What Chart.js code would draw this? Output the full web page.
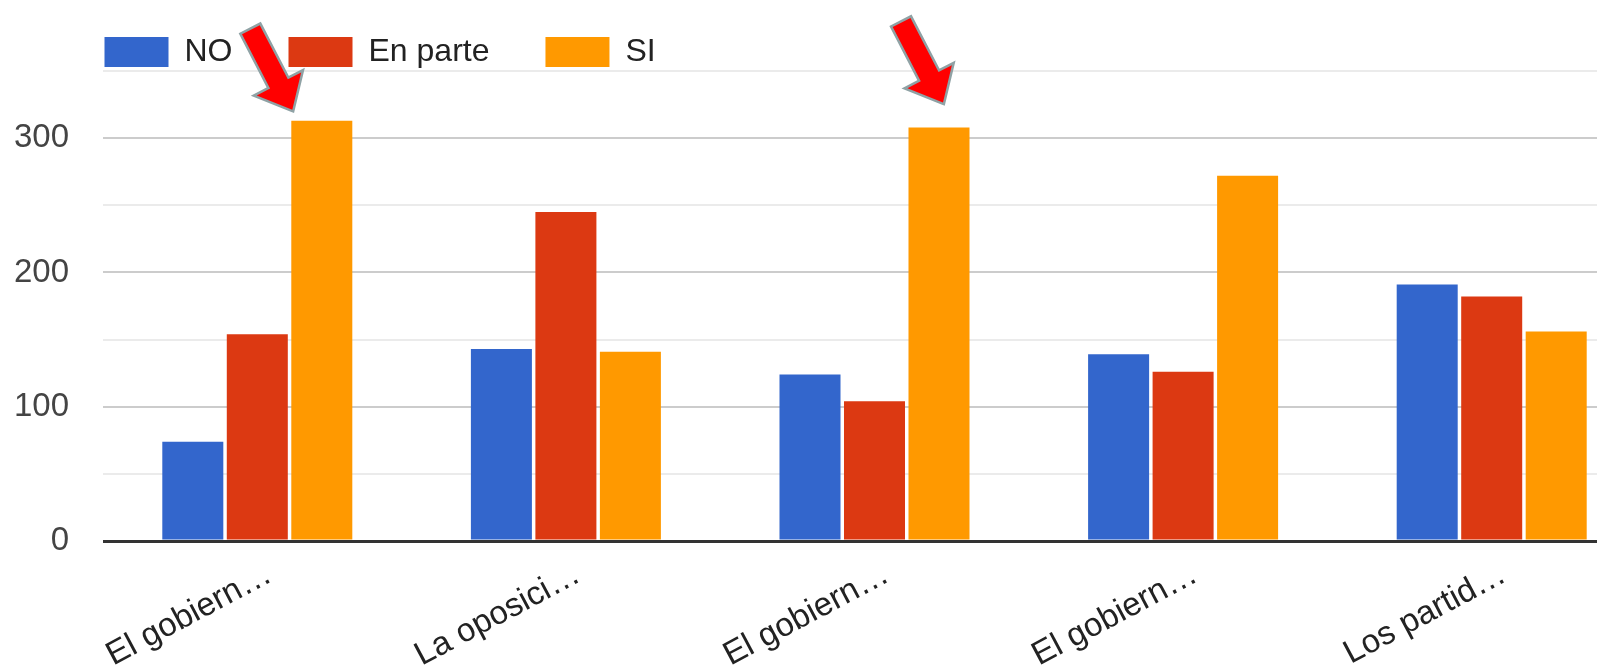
<!DOCTYPE html>
<html>
<head>
<meta charset="utf-8">
<script src="https://cdn.jsdelivr.net/npm/chart.js@4.4.0/dist/chart.umd.min.js"></script>
<style>
    html, body { margin: 0; padding: 0; background: #fff; overflow: hidden; }
    #wrap { width: 1646px; height: 669px; }
</style>
</head>
<body>
<div id="wrap"><canvas id="chart" width="1646" height="669"></canvas></div>
<script>
var categories = ['El gobiern…', 'La oposici…', 'El gobiern…', 'El gobiern…', 'Los partid…'];
var seriesNames = ['NO', 'En parte', 'SI'];
var noValues = [74, 143, 124, 139, 191];
var enParteValues = [154, 245, 104, 126, 182];
var siValues = [313, 141, 308, 272, 156];
var yTicks = [0, 100, 200, 300];
var yMax = 350;
var gridStep = 50;
var colors = ['#3366cc', '#dc3912', '#ff9900'];

var FONT = 'Arial, "Liberation Sans", sans-serif';

// red call-out arrow with grey outline, tip at (tx, ty)
function drawArrow(ctx, tx, ty) {
    var dx = 0.46, dy = 0.888;      // direction tail -> tip
    var px = -dy, py = dx;          // perpendicular
    var len = 90, headLen = 29, shaftW = 10, headW = 25;
    var bx = tx - dx * headLen, by = ty - dy * headLen;
    var sx = tx - dx * len, sy = ty - dy * len;
    ctx.save();
    ctx.beginPath();
    ctx.moveTo(tx, ty);
    ctx.lineTo(bx + px * headW, by + py * headW);
    ctx.lineTo(bx + px * shaftW, by + py * shaftW);
    ctx.lineTo(sx + px * shaftW, sy + py * shaftW);
    ctx.lineTo(sx - px * shaftW, sy - py * shaftW);
    ctx.lineTo(bx - px * shaftW, by - py * shaftW);
    ctx.lineTo(bx - px * headW, by - py * headW);
    ctx.closePath();
    ctx.lineJoin = 'miter';
    ctx.lineWidth = 5;
    ctx.strokeStyle = '#8fa2a5';
    ctx.stroke();
    ctx.fillStyle = '#ff0000';
    ctx.fill();
    ctx.restore();
}

var arrowPlugin = {
    id: 'arrows',
    afterDraw: function (chart) {
        var bars = chart.getDatasetMeta(2).data;
        drawArrow(chart.ctx, bars[0].x - bars[0].width / 2 + 1, bars[0].y - 11);
        drawArrow(chart.ctx, bars[2].x + 4, bars[2].y - 25);
    }
};

// put the legend row where the original has it
var legendPlace = {
    id: 'legendPlace',
    afterLayout: function (chart) {
        chart.legend.left = 48.5;
        chart.legend.top = -20;
    }
};

new Chart(document.getElementById('chart'), {
    type: 'bar',
    data: {
        labels: categories,
        datasets: [
            { label: seriesNames[0], data: noValues, backgroundColor: colors[0], borderWidth: 0 },
            { label: seriesNames[1], data: enParteValues, backgroundColor: colors[1], borderWidth: 0 },
            { label: seriesNames[2], data: siValues, backgroundColor: colors[2], borderWidth: 0 }
        ]
    },
    options: {
        responsive: false,
        animation: false,
        devicePixelRatio: 1,
        layout: { padding: 0 },
        datasets: {
            bar: { categoryPercentage: 0.627, barPercentage: 0.946 }
        },
        plugins: {
            tooltip: { enabled: false },
            legend: {
                position: 'top',
                align: 'start',
                maxHeight: 71,
                labels: {
                    boxWidth: 64,
                    boxHeight: 30,
                    padding: 56,
                    color: '#222',
                    font: { family: FONT, size: 32 }
                }
            }
        },
        scales: {
            x: {
                grid: { display: false },
                border: { display: false },
                ticks: {
                    autoSkip: false,
                    minRotation: 28,
                    maxRotation: 28,
                    padding: 6,
                    labelOffset: 12,
                    color: '#222',
                    font: { family: FONT, size: 33 }
                },
                afterFit: function (scale) { scale.height = 128; }
            },
            y: {
                min: 0,
                max: yMax,
                border: { display: false },
                grid: {
                    drawTicks: false,
                    color: function (ctx) {
                        var v = ctx.tick.value;
                        if (v === 0) return '#333333';
                        return yTicks.indexOf(v) >= 0 ? '#cccccc' : '#ebebeb';
                    },
                    lineWidth: function (ctx) {
                        return ctx.tick.value === 0 ? 3 : 2;
                    }
                },
                ticks: {
                    stepSize: gridStep,
                    autoSkip: false,
                    padding: 34,
                    color: '#444',
                    font: { family: FONT, size: 33 },
                    callback: function (value) {
                        return yTicks.indexOf(value) >= 0 ? value : '';
                    }
                },
                afterFit: function (scale) { scale.width = 103; }
            }
        }
    },
    plugins: [legendPlace, arrowPlugin]
});
</script>
</body>
</html>
